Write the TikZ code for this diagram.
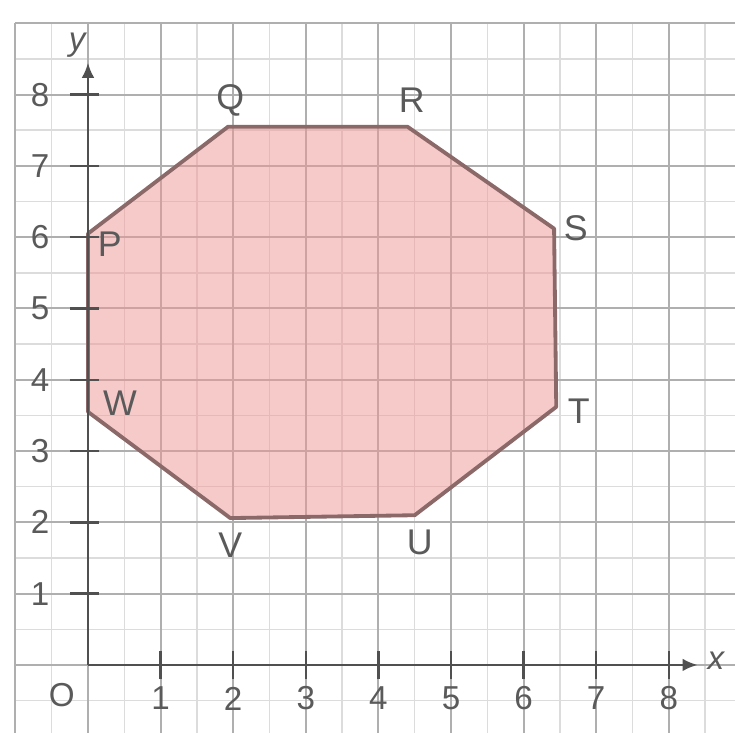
\documentclass[tikz,border=0pt]{standalone}
\usepackage{fontspec}
\setmainfont{Liberation Sans}
\usetikzlibrary{arrows.meta}
\definecolor{majorgrid}{RGB}{175,175,175}
\definecolor{minorgrid}{RGB}{220,220,220}
\definecolor{shapefill}{RGB}{240,150,150}
\definecolor{shapeline}{RGB}{140,105,105}
\definecolor{axiscol}{RGB}{80,80,80}
\definecolor{labcol}{RGB}{90,90,90}
\tikzset{
  minorline/.style={minorgrid, line width=0.6pt},
  majorline/.style={majorgrid, line width=0.8pt},
  axisline/.style={axiscol, line width=1.1pt},
  tickline/.style={axiscol, line width=0.9pt},
  numlab/.style={text=labcol, font=\fontsize{13}{13}\selectfont, inner sep=0pt},
  vertlab/.style={text=labcol, font=\fontsize{14}{14}\selectfont, inner sep=0pt},
  octagonstyle/.style={draw=shapeline, line width=1.5pt, fill=shapefill, fill opacity=0.5, line join=round}
}
\begin{document}
\begin{tikzpicture}[x=1cm, y=0.982cm]
\useasboundingbox[fill=white] (-1.212,-0.954) rectangle (8.912,9.327);
% grid
\foreach \k in {-1.5,-0.5,...,9}{
  \draw[minorline] (\k,-0.954) -- (\k,9.0);
  \draw[minorline] (-1.0,\k) -- (8.912,\k);
}
\foreach \k in {-1,0,...,9}{
  \draw[majorline] (\k,-0.954) -- (\k,9.0);
  \draw[majorline] (-1.0,\k) -- (8.912,\k);
}
% octagon vertices
\coordinate (P) at (0,6.05);
\coordinate (Q) at (1.93,7.55);
\coordinate (R) at (4.4,7.55);
\coordinate (S) at (6.42,6.12);
\coordinate (T) at (6.45,3.62);
\coordinate (U) at (4.5,2.1);
\coordinate (V) at (1.96,2.06);
\coordinate (W) at (0,3.55);
\filldraw[octagonstyle] (P) -- (Q) -- (R) -- (S) -- (T) -- (U) -- (V) -- (W) -- cycle;
% axes
\coordinate (O) at (0,0);
\coordinate (xend) at (8.4,0);
\coordinate (yend) at (0,8.45);
\draw[axisline, -{Latex[length=6pt,width=5pt]}] (O) -- (xend);
\draw[axisline, -{Latex[length=6pt,width=5pt]}] (O) -- (yend);
\node[text=labcol, font=\itshape\fontsize{13}{13}\selectfont] (xl) at (8.65,0.06) {x};
\node[text=labcol, font=\itshape\fontsize{13}{13}\selectfont] (yl) at (-0.15,8.7) {y};
% ticks and numbers
\foreach \k in {1,...,8}{
  \draw[tickline] (\k,-0.2) -- (\k,0.2);
  \draw[tickline] (-0.25,\k) -- (0.15,\k);
  \node[numlab] (xn\k) at (\k,-0.47) {\k};
  \node[numlab] (yn\k) at (-0.66,\k) {\k};
}
\node[numlab] (origin) at (-0.36,-0.42) {O};
% vertex labels
\node[vertlab] (lP) at (0.3,5.9) {P};
\node[vertlab] (lQ) at (1.96,7.92) {Q};
\node[vertlab] (lR) at (4.46,7.92) {R};
\node[vertlab] (lS) at (6.72,6.12) {S};
\node[vertlab] (lT) at (6.76,3.56) {T};
\node[vertlab] (lU) at (4.57,1.72) {U};
\node[vertlab] (lV) at (1.96,1.68) {V};
\node[vertlab] (lW) at (0.44,3.67) {W};
\end{tikzpicture}
\end{document}
